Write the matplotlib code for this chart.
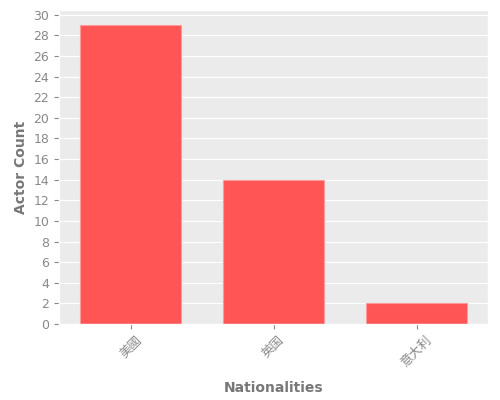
import numpy as np
import matplotlib
matplotlib.use("Agg")
import matplotlib.pyplot as plt

nationalities = ['美國', '英国', '意大利']
actor_counts = [29, 14, 2]

plt.style.use('ggplot')
plt.rcParams['font.family'] = ['DejaVu Sans', 'Noto Sans CJK TC']

fig, ax = plt.subplots(figsize=(5, 4), dpi=100)
fig.subplots_adjust(left=0.118, right=0.976, top=0.975, bottom=0.19)
ax.set_facecolor('#ebebeb')

x = np.arange(len(nationalities))
ax.bar(x, actor_counts, width=0.7, color='#ff5555', edgecolor='#ff9a9a', linewidth=0.8)
ax.set_xlim(-0.5, len(nationalities) - 0.5)
ax.set_ylim(0, max(actor_counts) * 1.05)
ax.set_yticks(range(0, 31, 2))
ax.set_xticks(x)
ax.set_xticklabels(nationalities, rotation=45, fontsize=9, color='#888888',
                   family=['Noto Sans CJK TC', 'DejaVu Sans'])
ax.tick_params(axis='y', labelsize=9, colors='#888888')
ax.tick_params(axis='x', colors='#888888')
ax.grid(axis='x', visible=False)
ax.set_xlabel('Nationalities', fontsize=10, fontweight='bold', color='#777777', labelpad=8)
ax.set_ylabel('Actor Count', fontsize=10, fontweight='bold', color='#777777')

fig.savefig('out.png')
